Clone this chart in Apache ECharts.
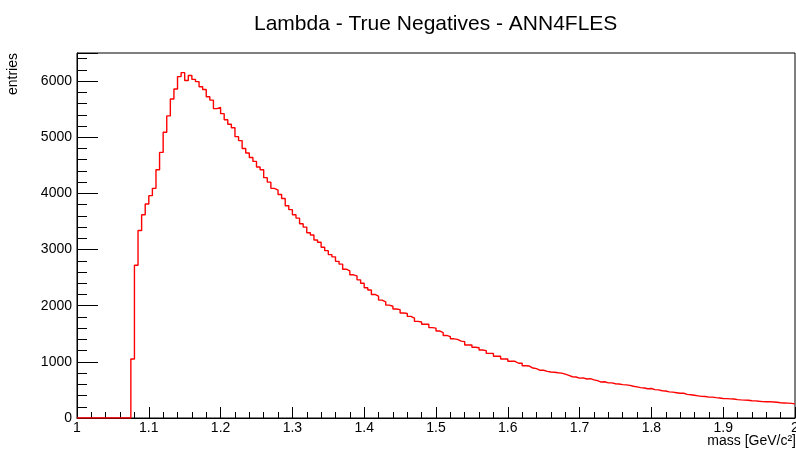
<!DOCTYPE html>
<html>
<head>
<meta charset="utf-8">
<script src="https://cdn.jsdelivr.net/npm/echarts@6/dist/echarts.min.js"></script>
<style>
html,body{margin:0;padding:0;background:#fff;}
#chart{width:796px;height:450px;}
</style>
</head>
<body>
<div id="chart"></div>
<script>
const titleText = 'Lambda - True Negatives - ANN4FLES';
const xTitle = 'mass [GeV/c²]';
const yTitle = 'entries';
const massMin = 1.0;
const massMax = 2.0;
const binWidth = 0.005;
const xTickStep = 0.1;
const yTickStep = 1000;
const yMax = 6500;
// bin contents, 200 bins of 0.005 GeV/c^2 from 1.0 to 2.0
const entries = [
  0,0,0,0,0,0,0,0,0,0,
  0,0,0,0,0,1050,2720,3340,3620,3810,
  3960,4090,4420,4730,5090,5380,5680,5860,6080,6150,
  6010,6100,6030,5990,5900,5850,5720,5660,5510,5530,
  5420,5310,5230,5170,5010,4940,4800,4720,4640,4570,
  4470,4420,4280,4200,4090,4060,3980,3910,3780,3710,
  3620,3560,3460,3400,3300,3260,3170,3130,3040,2980,
  2910,2870,2790,2740,2650,2620,2550,2530,2460,2400,
  2320,2280,2200,2170,2100,2070,2010,1990,1940,1930,
  1870,1860,1810,1780,1720,1710,1670,1670,1610,1600,
  1550,1520,1470,1450,1410,1400,1370,1360,1300,1300,
  1260,1250,1210,1200,1150,1150,1100,1100,1050,1050,
  1010,1010,975,975,930,925,890,880,850,850,
  830,820,815,805,800,780,760,735,730,710,
  715,695,700,680,665,640,645,625,625,610,
  605,595,590,580,565,555,540,535,520,525,
  505,500,485,480,465,460,450,440,440,420,
  415,405,395,385,382,372,372,362,355,348,
  345,340,338,328,322,318,315,308,305,298,
  292,290,292,286,280,272,268,264,260,252
];

const stepData = [];
for (let i = 0; i < entries.length; i++) {
  stepData.push([massMin + i * binWidth, entries[i]]);
}
stepData.push([massMax, entries[entries.length - 1]]);

const chart = echarts.init(document.getElementById('chart'), null, {renderer: 'canvas'});
const font = 'Liberation Sans, Arial, Helvetica, sans-serif';
chart.setOption({
  animation: false,
  backgroundColor: '#ffffff',
  title: {
    text: titleText,
    left: 249,
    top: 9,
    textStyle: {fontFamily: font, fontSize: 21, fontWeight: 'normal', color: '#000'}
  },
  grid: {
    left: 77, right: 1, top: 53, bottom: 32,
    outerBoundsMode: 'none',
    containLabel: false,
    show: true, borderColor: '#000', borderWidth: 1, backgroundColor: 'transparent'
  },
  xAxis: {
    type: 'value',
    min: massMin, max: massMax, interval: xTickStep,
    axisLine: {show: true, lineStyle: {color: '#000', width: 1}},
    axisTick: {show: true, inside: true, length: 11, lineStyle: {color: '#000'}},
    minorTick: {show: true, splitNumber: 5, length: 6, lineStyle: {color: '#000'}},
    splitLine: {show: false},
    axisLabel: {
      fontFamily: font, fontSize: 14, color: '#000', margin: 3,
      formatter: v => (Math.round(v * 10) / 10).toString()
    }
  },
  yAxis: {
    type: 'value',
    min: 0, max: yMax, interval: yTickStep,
    axisLine: {show: true, lineStyle: {color: '#000', width: 1}},
    axisTick: {show: true, inside: true, length: 21, lineStyle: {color: '#000'}},
    minorTick: {show: true, splitNumber: 5, length: 10, lineStyle: {color: '#000'}},
    splitLine: {show: false},
    axisLabel: {
      fontFamily: font, fontSize: 14, color: '#000', margin: 5, showMaxLabel: false,
      formatter: v => (v % 1000 === 0 ? String(v) : '')
    }
  },
  graphic: [
    {
      type: 'text',
      x: 13, y: 53,
      rotation: Math.PI / 2,
      style: {text: yTitle, font: '14px ' + font, fill: '#000', align: 'right', verticalAlign: 'middle'}
    },
    {
      type: 'text',
      x: 796, y: 441,
      style: {text: xTitle, font: '14px ' + font, fill: '#000', align: 'right', verticalAlign: 'middle'}
    }
  ],
  series: [{
    type: 'line',
    step: 'end',
    data: stepData,
    showSymbol: false,
    symbol: 'none',
    lineStyle: {color: '#ff0000', width: 1.4},
    clip: true
  }]
});
</script>
</body>
</html>
